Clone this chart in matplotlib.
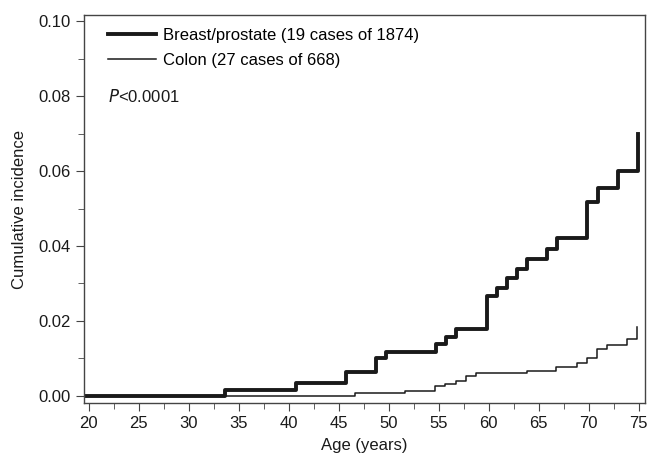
import matplotlib.pyplot as plt
from matplotlib.ticker import MultipleLocator

plt.rcParams['font.family'] = ['Liberation Sans', 'DejaVu Sans']

# step points (age, cumulative incidence)
bp_age = [19.5, 33.6, 40.7, 45.7, 48.7, 49.7, 54.7, 55.7, 56.7, 59.8, 60.8,
          61.8, 62.8, 63.8, 65.8, 66.8, 69.8, 70.9, 72.9, 74.9]
bp_inc = [0.0, 0.0016, 0.0034, 0.0065, 0.0100, 0.0118, 0.0138, 0.0156, 0.0178,
          0.0266, 0.0289, 0.0314, 0.0338, 0.0364, 0.0392, 0.0420, 0.0518,
          0.0556, 0.0600, 0.0699]

colon_age = [19.5, 46.6, 51.6, 54.6, 55.6, 56.7, 57.7, 58.7, 63.8, 66.7, 68.8,
             69.8, 70.8, 71.8, 73.8, 74.8]
colon_inc = [0.0, 0.0007, 0.0012, 0.0027, 0.0032, 0.0040, 0.0053, 0.0060,
             0.0067, 0.0078, 0.0089, 0.0102, 0.0124, 0.0137, 0.0153, 0.0185]

fig = plt.figure(figsize=(6.5, 4.58), dpi=100)
ax = fig.add_axes([0.129, 0.120, 0.863, 0.847])

ax.step(bp_age, bp_inc, where='post', color='#1a1a1a', linewidth=2.8,
        label='Breast/prostate (19 cases of 1874)')
ax.step(colon_age, colon_inc, where='post', color='#1a1a1a', linewidth=1.1,
        label='Colon (27 cases of 668)')

ax.set_xlim(19.5, 75.6)
ax.set_ylim(-0.0019, 0.1016)
ax.xaxis.set_major_locator(MultipleLocator(5))
ax.xaxis.set_minor_locator(MultipleLocator(2.5))
ax.yaxis.set_major_locator(MultipleLocator(0.02))
ax.yaxis.set_minor_locator(MultipleLocator(0.01))
ax.yaxis.set_major_formatter(plt.FormatStrFormatter('%.2f'))

for s in ax.spines.values():
    s.set_color('#444444')
    s.set_linewidth(1.0)
ax.tick_params(which='major', direction='out', length=6, color='#444444',
               labelsize=12, labelcolor='#1a1a1a')
ax.tick_params(which='minor', direction='out', length=4, color='#444444')

ax.set_xlabel('Age (years)', fontsize=12, color='#1a1a1a', labelpad=5)
ax.set_ylabel('Cumulative incidence', fontsize=12, color='#1a1a1a', labelpad=8)

ax.legend(loc='upper left', frameon=False, fontsize=12, handlelength=2.9,
          handletextpad=0.4, labelspacing=0.6, borderaxespad=0.3,
          bbox_to_anchor=(0.022, 0.997))
ax.text(0.043, 0.791, r'$P$<0.0001', transform=ax.transAxes, fontsize=12,
        color='#1a1a1a', va='center')

fig.savefig('out.png', dpi=100)
